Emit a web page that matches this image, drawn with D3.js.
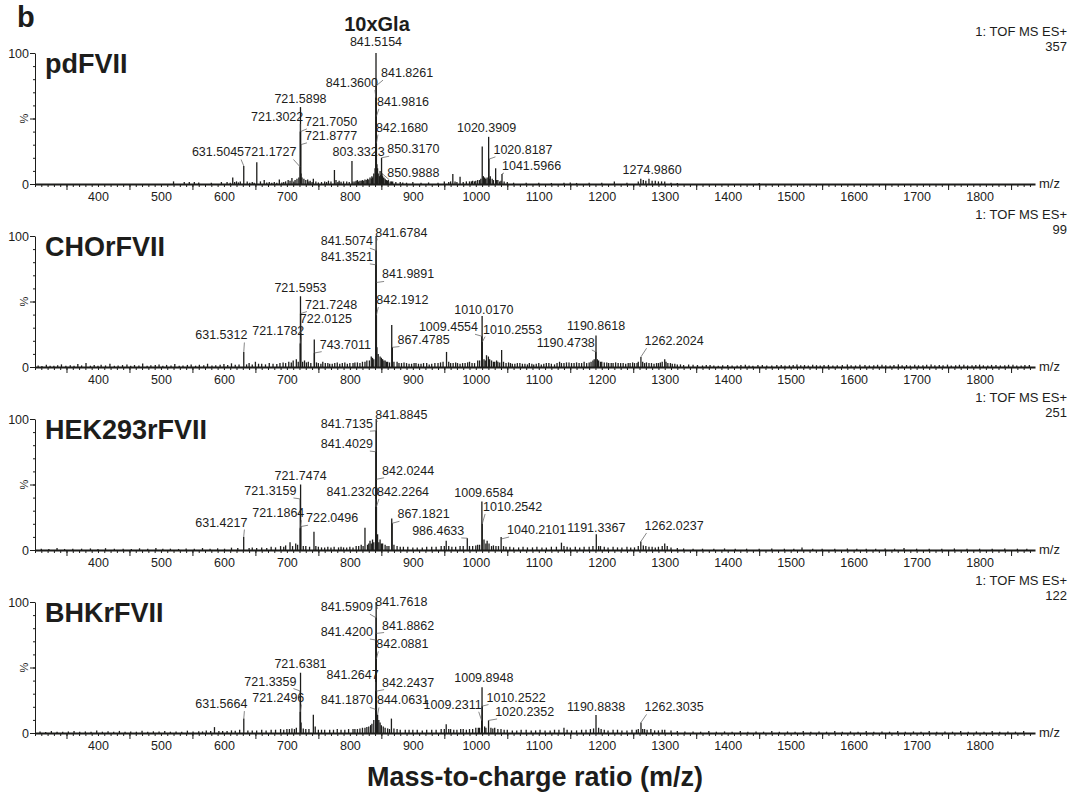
<!DOCTYPE html>
<html>
<head>
<meta charset="utf-8">
<script src="https://cdn.jsdelivr.net/npm/d3@7"></script>
<style>
  body { margin: 0; background: #fff; }
  text { font-family: Arial, "Liberation Sans", sans-serif; fill: #1d1d1b; }
</style>
</head>
<body>
<script>
// ---- data ----
var panelNames = ["pdFVII", "CHOrFVII", "HEK293rFVII", "BHKrFVII"];
var basePeakCounts = ["357", "99", "251", "122"];
var xTickLabels = [400, 500, 600, 700, 800, 900, 1000, 1100, 1200, 1300, 1400, 1500, 1600, 1700, 1800];

// [m/z, intensity %]
var peaksPd = [[614,5],[620,2],[626,2],[631.5045,13.8],[637,2],[652.2,16.6],[658,2],[664,3],[672,1.5],[688,3.5],[702,3],[708,4.5],[713,3],[716,4],[719,5],
  [721.1727,13],[721.3022,40],[721.5898,58.7],[721.7050,40],[721.8777,30],[722.5,8],[724,5],[727,4],[730,3],[733,3.5],[737,2.5],[742,4],[746,2],
  [766,2.5],[775.5,10.7],[778,3],[783,2.5],[790,2],[803.3323,17.6],[808,2],[812,3],[816,2.5],[820,3],[824,3.5],[828,4],[832,5],[835,6],[838,8],[840,12],
  [841.3600,66],[841.5154,100],[841.8261,75],[841.9816,51.5],[842.1680,31],[843,15],[844,12],[845,8],[847,6],[848,10],[850.3170,20],[850.9888,8],
  [852,6],[854,5],[856,4],[858,3],[861,3],[864,2],[868,2],[950,2],[963.5,7.7],[967,2],[975,5.6],[985,2],[990,2],[995,2.5],[1000,2.5],[1003,3],[1006,3],
  [1010.2,28.6],[1012,6],[1015,4],[1018,5],[1020.3909,36],[1020.8187,19],[1023,6],[1026,4],[1031.5,12],[1035,3],[1038,2],[1041.5966,7.7],[1045,2],
  [1220,2],[1258,2],[1262,4],[1266,3],[1270,2.5],[1274.9860,4],[1280,2.5],[1285,2.5],[1290,2],[1295,2],[1300,2]];
var noisePd = [[520,2],[537,1.5],[545,1.5],[553,1.5],[560,1.2],[580,1],[596,1.5],[605,1.5],[610,1],[617,1.5],[623,1.2],[641,1],[645,1.5],[648,1],
  [668,1.2],[676,1],[680,1.5],[684,1],[692,1.2],[695,1.5],[698,2],[705,2.5],[711,2],[735,2],[740,1.5],[750,1.2],[755,1.5],[760,2],[763,1.5],[770,2],
  [781,1.5],[786,1.8],[795,2],[799,1.5],[805,2],[810,2.5],[814,2],[818,2.5],[822,2.5],[826,3],[830,3.5],[834,4],[836,5],[849,7],[853,4.5],[857,3],
  [860,2.5],[866,2],[873,1.5],[880,1.5],[884,1.2],[890,1],[900,1.5],[913,1],[925,1.2],[940,1],[957,1.5],[960,2],[970,1.5],[980,1.5],[993,2],[998,2],
  [1008,4],[1014,5],[1016,4],[1022,4],[1028,3],[1033,3],[1040,2.5],[1050,1.5],[1060,1],[1080,1],[1100,1],[1120,0.8],[1140,1],
  [1150,1.2],[1160,0.8],[1180,1],[1200,1],[1240,1],[1310,1],[1320,0.8],[1450,0.8]];

var peaksCho = [[631.5312,11.5],[650,4],[703,4],[710,5],[715,6],[721.1782,17.9],[721.5953,54],[721.7248,40.8],[722.0125,26],[728,5],[743.5,21],
  [743.7011,10.7],[834,8],[838,6],[841.3521,78],[841.5074,89],[841.6784,100],[841.9891,64.5],[842.1912,39.5],[843,15],[845,10],[848,8],[852,6],[856,5],
  [866.5,32],[867.4785,15],[953.5,11.5],[990,4],[1003,5],[1009.4554,23.5],[1010.0170,39],[1010.2553,19],[1017,9],[1020,8],[1025,5],[1041,13],
  [1186,5],[1190.4738,11.5],[1190.8618,24],[1195,5],[1262.2024,7.7],[1300,6]];
var noiseCho = [[305,1.2],[311,0.8],[318,1.8],[324,1],[330,1],[336,1.4],[342,2],[349,1],[356,1.4],[362,1],[368,2.2],[374,1.2],[381,3],[388,1],
  [394,1.5],[400,1],[405,1.8],[412,1.2],[419,2.4],[426,1],[432,1.2],[439,1.5],[446,2],[452,1],[458,1.5],[465,1.2],[471,2.6],[478,1],[484,1.3],[491,1.5],
  [497,2],[503,1],[509,1.6],[516,1.2],[522,2.3],[529,1],[535,1.2],[542,1.6],[548,2],[555,1],[561,1.7],[568,1.3],[574,2.5],[581,1.2],[587,1.4],[594,1.8],
  [600,2.2],[606,1.5],[612,2.8],[618,1.8],[624,2],[636,2],[640,3],[645,2],[655,2.5],[660,2.5],[666,2],[672,3],[678,2.5],[684,2.2],[689,3],[694,3.5],
  [698,3],[707,3.5],[718,4],[725,4],[731,3.5],[734,4],[738,3],[747,3.5],[750,3],[754,2.5],[757,4],[761,3],[765,3],[768,2.5],[772,2.5],[776,3],[780,3.5],
  [784,2.5],[788,3],[792,3.5],[796,2.5],[800,3],[805,3],[808,3.5],[812,3.5],[816,3],[820,4],[824,4],[827,5],[831,5],[836,7],[850,7],[854,5],[858,4],
  [860,4],[863,3.5],[870,4],[875,4],[878,3],[882,3],[886,3.5],[890,3],[894,2.5],[898,2.5],[902,3],[905,3],[909,2.5],[913,2.5],[917,3],[922,3],[926,2],
  [930,2.5],[935,3],[940,3],[944,3.5],[948,4],[957,4],[960,3],[964,3],[968,3.5],[971,3],[975,2.5],[979,3],[983,3],[987,3.5],[994,3],[998,3],[1006,5],
  [1013,6],[1015,5],[1022,6],[1028,4],[1030,4],[1033,5],[1035,4],[1038,3.5],[1044,4],[1048,3],[1052,3.5],[1055,3],[1058,2.5],[1062,2.5],[1066,3],[1070,3],
  [1074,2.5],[1078,2.5],[1082,2],[1085,3],[1089,2.5],[1092,2],[1096,2.5],[1100,3],[1104,2],[1108,2.5],[1112,3],[1116,3],[1120,2.5],[1125,2],[1129,3],
  [1133,4],[1136,3],[1140,3],[1144,3.5],[1148,3.5],[1152,3],[1156,3],[1160,3.5],[1164,3],[1168,3],[1172,4],[1176,3],[1180,3.5],[1183,4],[1188,6],
  [1193,6],[1198,4],[1200,4],[1204,3.5],[1208,3.5],[1211,3],[1215,3],[1218,3],[1222,3.5],[1226,3],[1230,3],[1234,3],[1238,2.5],[1242,3],[1245,3],
  [1249,3.5],[1252,3],[1256,3],[1258,4],[1265,4],[1268,3],[1271,3.5],[1275,3],[1279,3],[1283,2.5],[1287,3],[1290,3],[1293,3.5],[1296,4],[1302,4],
  [1305,3],[1309,3],[1312,2.5],[1316,2.5],[1320,2],[1325,2],[1330,1.5],[1338,2],[1345,1.8],[1352,1.5],[1360,1.2],[1366,1.6],[1372,1.5],[1378,1.2],
  [1385,1],[1392,1.4],[1400,1.5],[1407,1.2],[1415,1.2],[1421,1.6],[1428,1.8],[1434,1.2],[1440,1],[1448,1.5],[1455,1.5],[1462,1.2],[1470,1.2],
  [1478,1.5],[1485,1.6],[1491,1.2],[1498,1.3],[1504,1.6],[1510,2],[1516,1.4],[1522,1.5],[1528,1.2],[1535,1.8],[1541,1.4],[1547,1.2],[1553,1.5],
  [1560,1.6],[1567,1.2],[1574,1.3],[1582,1.6],[1590,2],[1596,1.4],[1603,1.2],[1610,1.8],[1618,1.6],[1625,1.2],[1632,1.3],[1638,1.7],[1645,1.8],
  [1651,1.3],[1658,1.2],[1664,1.6],[1671,2],[1677,1.4],[1684,1.5],[1690,1.2],[1697,1.8],[1703,1.3],[1710,1.4],[1716,1.7],[1723,2],[1729,1.3],
  [1736,1.5],[1742,1.4],[1749,1.8],[1755,1.2],[1762,1.3],[1768,1.7],[1775,1.7],[1781,1.2],[1788,1.4],[1794,1.6],[1800,1.8],[1806,1.3],[1813,1.2],
  [1819,1.6],[1826,1.6],[1833,1.2],[1840,1.3],[1846,1.7],[1853,1.8],[1859,1.2],[1866,1.2],[1872,1.6],[1879,1.5]];

var peaksHek = [[631.4217,10.2],[705,6],[714,5],[721.1864,16.6],[721.3159,39],[721.7474,50],[722.0496,17.9],[743,14],[824,17],[832,7],[836,8],
  [838,6],[841.2320,33],[841.4029,75],[841.7135,91],[841.8845,100],[842.0244,54],[842.2264,33],[844,12],[848,8],[852,5],[866.5,24],[867.1821,20.4],
  [953,7],[986.4633,9],[1009.6584,37],[1010.2542,20],[1013,8],[1018,7],[1040.2101,10],[1136,5.6],[1191.3367,12],[1262.0237,6.4],[1300,5]];
var noiseHek = [[310,1],[322,0.8],[335,1.5],[347,0.8],[360,1],[374,1],[388,1.2],[400,0.8],[412,1.4],[426,1],[440,1],[453,0.8],[466,1.3],[479,1],
  [492,1.5],[503,1],[515,1],[528,0.8],[540,1.2],[553,1],[566,1.5],[578,1],[590,1.3],[601,1],[612,1.8],[622,1.5],[640,1.5],[645,2],[652,1.5],[660,2],
  [668,1.5],[675,2.5],[682,2],[690,3],[695,2.5],[698,3.5],[709,3],[717,4],[726,3],[730,3],[736,2.5],[746,3],[750,2.5],[755,2],[760,2],[765,2.5],
  [770,2],[775,2.5],[782,2],[786,2.5],[790,2],[795,2],[800,2.5],[805,2],[810,3],[814,3],[818,4],[821,3],[828,4],[830,5],[834,5],[846,6],[850,5],
  [856,4],[859,3],[862,3],[870,4],[875,3],[880,2.5],[885,2.5],[892,2.5],[900,2],[907,2],[915,2],[922,2.5],[930,2.5],[937,2.5],[945,3],[950,3],
  [957,3],[962,2.5],[968,2.5],[975,3],[980,3],[990,3],[995,3],[1000,3.5],[1003,4],[1006,4],[1016,5],[1021,5],[1025,3],[1028,3.5],[1032,3],
  [1036,3],[1044,3],[1048,2.5],[1054,2.5],[1060,2],[1068,2],[1075,2.5],[1082,2],[1090,2],[1097,2.5],[1105,2],[1112,2],[1120,2.5],[1128,2.5],
  [1140,3],[1145,2.5],[1150,2],[1158,2.5],[1165,2],[1172,2.5],[1180,2.5],[1186,3],[1195,3],[1198,3],[1204,2.5],[1210,2],[1218,2.5],[1225,2],
  [1232,2],[1240,2.5],[1246,2],[1252,2],[1258,3],[1266,3.5],[1270,3],[1275,2.5],[1280,2.5],[1285,2],[1290,2.5],[1296,3],[1304,3],[1310,2],
  [1320,1.5],[1330,1.2],[1345,1],[1360,1],[1378,1],[1395,1.2],[1412,1],[1430,1],[1450,1],[1470,1.2],[1490,1],[1505,1],[1518,2],[1535,1],
  [1550,1],[1570,1],[1590,1.2],[1605,1],[1620,1],[1635,1],[1650,1.2],[1665,1],[1680,1.5],[1700,1],[1720,1],[1740,1],[1760,1.2],[1780,1],
  [1800,1],[1820,1],[1840,1.2],[1860,1],[1875,1]];

var peaksBhk = [[585,4.5],[631.5664,11],[715,4],[721.2496,16],[721.3359,32],[721.6381,46],[722.5,8],[742,14],[745,5],[820,4],[830,5],[835,7],
  [838,10],[841.1870,18],[841.2647,32],[841.4200,71],[841.5909,88],[841.7618,100],[841.8862,76],[842.0881,56.5],[842.2437,32],[844.0631,14],
  [846,10],[850,6],[866,11],[953,6.6],[960,3],[980,3],[1000,4],[1009.2311,9.6],[1009.8948,35],[1010.2522,20.5],[1020.2352,9.6],[1030,4],
  [1140,4],[1190.8838,13.7],[1195,4],[1262.3035,8],[1268,3],[1278,3]];
var noiseBhk = [[308,1.2],[317,0.8],[326,1.5],[335,1],[344,1],[353,1.2],[362,1.6],[371,1],[380,1.2],[389,1],[398,2],[407,1],[416,1.3],[425,1],
  [434,1.6],[443,1],[452,1.2],[461,1],[470,1.8],[479,1],[488,1.3],[497,1.2],[506,1.6],[515,1],[524,1.2],[533,1],[542,1.8],[551,1.2],[560,1.4],
  [566,1.2],[572,2],[579,1.5],[592,1.5],[598,1.5],[605,1.6],[612,2],[618,1.8],[625,2.5],[638,2],[645,2],[652,2],[660,2.5],[667,2],[675,2.5],
  [682,2.5],[690,3],[695,2.5],[700,3],[704,3],[708,3.5],[712,3],[726,3.5],[730,3],[735,3],[750,2.5],[755,2.5],[760,2.5],[768,2.5],[774,2.5],
  [780,3],[786,2.5],[792,2.5],[798,3],[805,3],[808,3],[812,3],[816,3.5],[824,4],[827,4.5],[833,6],[848,8],[853,5],[856,4],[860,3.5],[863,3],
  [870,3.5],[875,3],[880,2.5],[888,2.5],[894,2.5],[900,2.5],[907,2.5],[915,2],[922,2.5],[930,2.5],[937,2.5],[945,3],[950,3],[957,3],[965,2.5],
  [970,2.5],[976,3],[985,2.5],[990,3],[995,3],[1004,4],[1006,4],[1014,5],[1016,4],[1024,4],[1027,3.5],[1035,3],[1040,3],[1045,2.5],[1050,2.5],
  [1058,2],[1065,2],[1072,2.5],[1080,2.5],[1088,2],[1095,2],[1102,2.5],[1110,2],[1118,2],[1125,2.5],[1132,2.5],[1145,2.5],[1152,2],[1160,2],
  [1168,2.5],[1175,2.5],[1182,3],[1187,3.5],[1199,3],[1204,2.5],[1210,2],[1218,2.5],[1225,2.5],[1232,2],[1240,2],[1248,2.5],[1255,2.5],[1258,3],
  [1265,3],[1272,2.5],[1284,2],[1290,2],[1296,2.5],[1300,2.5],[1310,2],[1320,1.5],[1332,1.2],[1345,1.2],[1357,1],[1370,1.5],[1382,1],[1395,1.2],
  [1407,1],[1420,1.5],[1432,1],[1445,1.2],[1457,1],[1470,1.6],[1482,1],[1495,1.2],[1507,1],[1520,1.5],[1532,1],[1545,1.2],[1557,1],[1570,1.5],
  [1582,1],[1595,1.2],[1607,1],[1620,1.6],[1632,1],[1645,1.2],[1657,1],[1670,1.5],[1682,1],[1695,1.2],[1707,1],[1720,1.5],[1732,1],[1745,1.2],
  [1757,1],[1770,1.6],[1782,1],[1795,1.2],[1807,1],[1820,1.5],[1832,1],[1845,1.2],[1857,1],[1870,1.5]];

// peak labels: [label, intensity % at leader end, label m/z, label %, anchor]
var labelsPd = [["631.5045",13.8,632,21,"end"],["721.1727",13,715.2,21,"end"],["721.3022",40,726,48,"end"],["721.5898",58.7,721.6,61.7,"middle"],
  ["721.7050",40,728.7,44.4,"start"],["721.8777",30,728.7,33.7,"start"],["803.3323",17.6,814,21,"middle"],["841.5154",100,841.5,105,"middle"],
  ["841.3600",66,844.6,74,"end"],["841.8261",75,849.5,81.6,"start"],["841.9816",51.5,843,59.7,"start"],["842.1680",31,841.4,40,"start"],
  ["850.3170",20,859.3,23.5,"start"],["850.9888",8,859.3,5.6,"start"],["1020.3909",36,1017.1,40,"middle"],["1020.8187",19,1028,23,"start"],
  ["1041.5966",7.7,1041.6,10.7,"start"],["1274.9860",4,1280,8,"middle"]];
var labelsCho = [["631.5312",11.5,637.3,21,"end"],["721.1782",17.9,727.7,24.7,"end"],["721.5953",54,721.6,57.4,"middle"],["721.7248",40.8,728.7,44.6,"start"],
  ["722.0125",26,720.6,33.7,"start"],["743.7011",10.7,752.1,14,"start"],["841.6784",100,840.3,99,"start"],["841.5074",89,836.5,93,"end"],
  ["841.3521",78,836.5,81,"end"],["841.9891",64.5,851.2,67.6,"start"],["842.1912",39.5,842,48,"start"],["867.4785",15,875.6,17.9,"start"],
  ["1009.4554",23.5,1003.5,27.3,"end"],["1010.0170",39,1012.7,40.8,"middle"],["1010.2553",19,1011.6,25.5,"start"],["1190.4738",11.5,1189,15.3,"end"],
  ["1190.8618",24,1190.9,28,"middle"],["1262.2024",7.7,1268,16.6,"start"]];
var labelsHek = [["631.4217",10.2,637.3,17.9,"end"],["721.1864",16.6,727.7,25,"end"],["721.3159",39,715.2,42,"end"],["721.7474",50,721.7,53.6,"middle"],
  ["722.0496",17.9,730.4,21.2,"start"],["841.8845",100,840.3,100,"start"],["841.7135",91,836.5,93,"end"],["841.4029",75,836.5,77.8,"end"],
  ["842.0244",54,851.2,57.4,"start"],["841.2320",33,845.7,41.3,"end"],["842.2264",33,843,41.3,"start"],["867.1821",20.4,875.6,24.2,"start"],
  ["986.4633",9,981.7,11.5,"end"],["1009.6584",37,1012.7,40.3,"middle"],["1010.2542",20,1011.6,29.8,"start"],["1040.2101",8.4,1049.7,12.2,"start"],
  ["1191.3367",12,1191.3,13.5,"middle"],["1262.0237",6.4,1268,15.3,"start"]];
var labelsBhk = [["631.5664",11,637.3,19,"end"],["721.2496",16,727.7,24,"end"],["721.3359",32,715.2,36.2,"end"],["721.6381",46,721.6,49.4,"middle"],
  ["841.7618",100,840.3,97,"start"],["841.5909",88,836.5,93,"end"],["841.8862",76,851.2,79,"start"],["841.4200",71,836.5,74,"end"],
  ["842.0881",56.5,842,64.6,"start"],["841.2647",32,845.7,41.3,"end"],["842.2437",32,851.2,35.4,"start"],["841.1870",18,836.5,21.8,"end"],
  ["844.0631",14,843,21.8,"start"],["1009.2311",9.6,1009.4,18.5,"end"],["1009.8948",35,1012.7,38.7,"middle"],["1010.2522",20.5,1017,24,"start"],
  ["1020.2352",9.6,1030.7,13,"start"],["1190.8838",13.7,1190.9,17,"middle"],["1262.3035",8,1268,16.5,"start"]];

var peakSets = [peaksPd, peaksCho, peaksHek, peaksBhk];
var noiseSets = [noisePd, noiseCho, noiseHek, noiseBhk];
var labelSets = [labelsPd, labelsCho, labelsHek, labelsBhk];

// ---- drawing ----
var width = 1075, height = 795;
var ink = "#1d1d1b";

var svg = d3.select("body").append("svg")
    .attr("width", width)
    .attr("height", height);

var x = d3.scaleLinear().domain([300, 1888]).range([35, 1035]);
var baselines = [184, 367, 550, 733];
var panelHeight = 131;

panelNames.forEach(function(name, i) {
    var base = baselines[i];
    var y = d3.scaleLinear().domain([0, 100]).range([base, base - panelHeight]);
    var g = svg.append("g");

    // spectrum sticks
    var sticks = noiseSets[i].concat(peakSets[i]);
    g.selectAll("line.stick")
        .data(sticks)
        .enter()
        .append("line")
        .attr("x1", function(d) { return x(d[0]); })
        .attr("x2", function(d) { return x(d[0]); })
        .attr("y1", y(0))
        .attr("y2", function(d) { return y(d[1]); })
        .attr("stroke", ink)
        .attr("stroke-width", 1.3);

    // x axis: minor ticks, 50-offset ticks, labels
    g.append("g")
        .attr("transform", "translate(0," + base + ")")
        .call(d3.axisBottom(x).tickValues(d3.range(300, 1881, 10)).tickSize(3).tickSizeOuter(0).tickFormat(""))
        .call(function(a) { a.select(".domain").attr("stroke-width", 2).attr("stroke", ink); a.selectAll("line").attr("stroke", ink); });
    g.append("g")
        .attr("transform", "translate(0," + base + ")")
        .call(d3.axisBottom(x).tickValues(d3.range(350, 1851, 100)).tickSize(6).tickSizeOuter(0).tickFormat(""))
        .call(function(a) { a.select(".domain").remove(); a.selectAll("line").attr("stroke", ink); });
    g.append("g")
        .attr("transform", "translate(0," + base + ")")
        .call(d3.axisBottom(x).tickValues(xTickLabels).tickSize(0).tickPadding(8).tickFormat(d3.format("d")))
        .call(function(a) {
            a.select(".domain").remove();
            a.selectAll("text").attr("font-size", 12.5).attr("font-family", null).attr("fill", ink);
        });

    // y axis
    g.append("g")
        .attr("transform", "translate(35,0)")
        .call(d3.axisLeft(y).tickValues(d3.range(10, 100, 10)).tickSize(2).tickSizeOuter(0).tickFormat(""))
        .call(function(a) { a.select(".domain").attr("stroke", ink); a.selectAll("line").attr("stroke", ink); });
    g.append("g")
        .attr("transform", "translate(35,0)")
        .call(d3.axisLeft(y).tickValues([0, 50, 100]).tickSize(5).tickPadding(1)
            .tickFormat(function(d) { return d === 50 ? "" : d; }))
        .call(function(a) {
            a.select(".domain").remove();
            a.selectAll("line").attr("stroke", ink);
            a.selectAll("text").attr("font-size", 12.5).attr("font-family", null).attr("fill", ink);
        });
    g.append("text")
        .attr("transform", "translate(28," + y(50) + ") rotate(-90)")
        .attr("text-anchor", "middle")
        .attr("font-size", 11)
        .text("%");

    // sample name
    g.append("text")
        .attr("x", 45)
        .attr("y", y(100) + 20)
        .attr("font-size", 27)
        .attr("font-weight", "bold")
        .text(name);

    // instrument mode and base peak count
    g.append("text")
        .attr("x", 1067).attr("y", y(100) - 17)
        .attr("text-anchor", "end").attr("font-size", 13)
        .text("1: TOF MS ES+");
    g.append("text")
        .attr("x", 1067).attr("y", y(100) - 2)
        .attr("text-anchor", "end").attr("font-size", 13)
        .text(basePeakCounts[i]);
    g.append("text")
        .attr("x", 1039).attr("y", base + 4)
        .attr("font-size", 13)
        .text("m/z");

    // peak labels with leaders
    var labels = g.selectAll("g.lab")
        .data(labelSets[i])
        .enter()
        .append("g");
    labels.filter(function(d) { return d[4] !== "middle"; })
        .append("line")
        .attr("x1", function(d) { return x(d[2]) + (d[4] === "end" ? -3 : 2); })
        .attr("y1", function(d) { return y(d[3]) + 3; })
        .attr("x2", function(d) { return x(+d[0]); })
        .attr("y2", function(d) { return y(d[1]); })
        .attr("stroke", "#555")
        .attr("stroke-width", 0.7);
    labels.append("text")
        .attr("x", function(d) { return x(d[2]); })
        .attr("y", function(d) { return y(d[3]); })
        .attr("text-anchor", function(d) { return d[4]; })
        .attr("font-size", 12.5)
        .text(function(d) { return d[0]; });
});

svg.append("text")
    .attr("x", 17).attr("y", 27)
    .attr("font-size", 29).attr("font-weight", "bold")
    .text("b");

svg.append("text")
    .attr("x", 377).attr("y", 31)
    .attr("text-anchor", "middle")
    .attr("font-size", 20).attr("font-weight", "bold")
    .text("10xGla");

svg.append("text")
    .attr("x", 535).attr("y", 786)
    .attr("text-anchor", "middle")
    .attr("font-size", 27).attr("font-weight", "bold")
    .text("Mass-to-charge ratio (m/z)");
</script>
</body>
</html>
